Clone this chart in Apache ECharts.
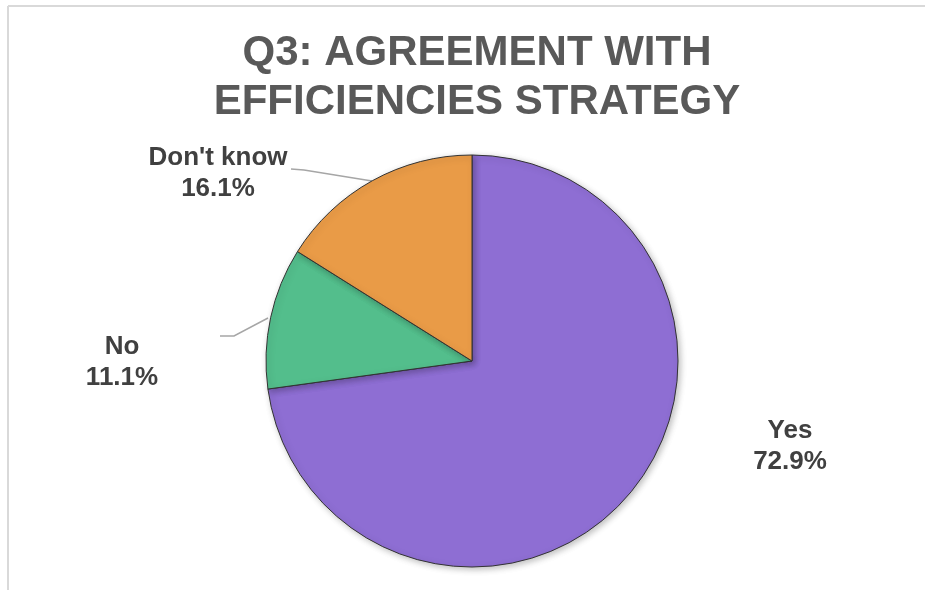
<!DOCTYPE html>
<html>
<head>
<meta charset="utf-8">
<script src="https://cdn.jsdelivr.net/npm/echarts@6/dist/echarts.min.js"></script>
<style>
html,body{margin:0;padding:0;background:#fff;}
#chart{width:925px;height:590px;}
</style>
</head>
<body>
<div id="chart"></div>
<script>
const titleText = "Q3: AGREEMENT WITH\nEFFICIENCIES STRATEGY";
const categories = ["Yes", "No", "Don't know"];
const values = [72.9, 11.1, 16.1];
const colors = ["#8e6ed3", "#53be8c", "#e99b47"];

// label placement (layout only)
const labelPos = [
  { x: 790, y: 446, line: null },
  { x: 122, y: 362, line: [[268, 318], [234, 336], [220, 336]] },
  { x: 218, y: 173, line: [[372, 181], [304, 170], [291, 169]] }
];

const chart = echarts.init(document.getElementById('chart'));
const data = categories.map((c, i) => ({
  name: c,
  value: values[i],
  itemStyle: { color: colors[i] },
  labelLine: { show: labelPos[i].line !== null }
}));

chart.setOption({
  animation: false,
  backgroundColor: '#ffffff',
  title: {
    text: titleText,
    left: 472,
    textAlign: 'center',
    top: 24,
    textStyle: {
      fontFamily: 'Liberation Sans, Arial, sans-serif',
      fontWeight: 'bold',
      fontSize: 42,
      lineHeight: 49,
      color: '#595959'
    }
  },
  graphic: [
    { type: 'line', shape: { x1: 8, y1: 6, x2: 925, y2: 6 }, style: { stroke: '#d9d9d9', lineWidth: 2 } },
    { type: 'line', shape: { x1: 8, y1: 6, x2: 8, y2: 590 }, style: { stroke: '#d9d9d9', lineWidth: 2 } }
  ],
  series: [{
    type: 'pie',
    center: [472, 361],
    radius: 206,
    startAngle: 90,
    clockwise: true,
    data: data,
    itemStyle: {
      borderColor: '#333333',
      borderWidth: 1,
      shadowBlur: 6,
      shadowColor: 'rgba(0,0,0,0.25)',
      shadowOffsetX: 2,
      shadowOffsetY: 2
    },
    label: {
      show: true,
      position: 'outside',
      formatter: p => p.name + '\n' + p.value.toFixed(1) + '%',
      fontFamily: 'Liberation Sans, Arial, sans-serif',
      fontWeight: 'bold',
      fontSize: 26,
      lineHeight: 31,
      color: '#404040',
      align: 'center'
    },
    labelLine: {
      show: true,
      lineStyle: { color: '#a6a6a6', width: 1.5 }
    },
    emphasis: { disabled: true },
    labelLayout: function (params) {
      const lp = labelPos[params.dataIndex];
      const res = { x: lp.x, y: lp.y, align: 'center', verticalAlign: 'middle' };
      if (lp.line) res.labelLinePoints = lp.line;
      return res;
    }
  }]
});
</script>
</body>
</html>
